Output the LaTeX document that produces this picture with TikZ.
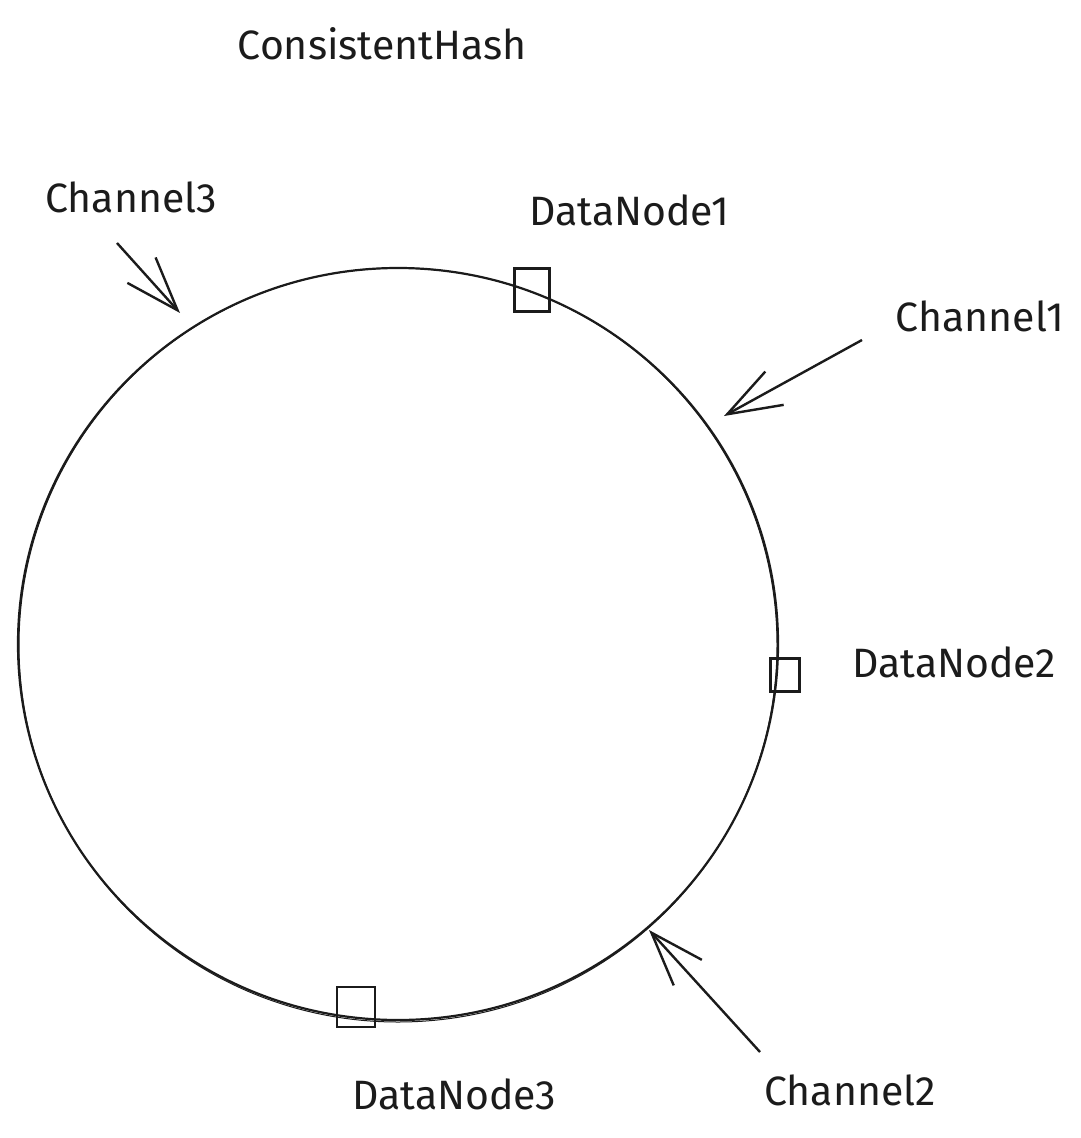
\documentclass[tikz,border=0pt]{standalone}
\usepackage{fontspec}
\setmainfont{Fira Sans}
\usepackage{tikz}
\usetikzlibrary{arrows.meta,positioning}
\definecolor{cInk}{HTML}{1B1B1B}
\tikzset{
  ring/.style={draw=cInk,line width=1.1pt},
  slot/.style={draw=cInk,line width=1.3pt,inner sep=0pt,minimum width=#1},
  lbl/.style={font=\fontsize{20.5}{22}\selectfont,text=cInk,inner sep=0pt},
  harr/.style={-{Straight Barb[length=27pt,width=19pt,line width=1.2pt]},line width=1.2pt,color=cInk},
}
\begin{document}
\begin{tikzpicture}[x=0.5pt,y=-0.5pt]
    \useasboundingbox (0,0) rectangle (1080,1138);
    % the hash ring
    \draw[ring] (398,644) ellipse [x radius=380,y radius=376];
    \draw[ring,line width=0.5pt] (398,645) ellipse [x radius=379,y radius=377];
    % data nodes sitting on the ring
    \node[slot=17.5pt,minimum height=21.5pt] (dn1) at (532,290) {};
    \node[slot=14.5pt,minimum height=16.5pt] (dn2) at (785,675) {};
    \node[slot=19pt,minimum height=20pt] (dn3) at (356,1007) {};
    % texts
    \node[lbl] (title) at (382,44) {ConsistentHash};
    \foreach \n/\x/\y/\t in {ch3/131/197/Channel3, dl1/629/210/DataNode1, ch1/980/316/Channel1, dl2/954/662/DataNode2, dl3/454/1094/DataNode3, ch2/850/1090/Channel2}{
      \node[lbl] (\n) at (\x,\y) {\t};}
    % channels pointing at the ring
    \foreach \n/\sx/\sy/\tx/\ty in {c3/117/243/180/313, c1/862/340/724/416, c2/760/1052/649/930}{
      \coordinate (\n s) at (\sx,\sy);
      \coordinate (\n t) at (\tx,\ty);
      \draw[harr] (\n s) -- (\n t);}
\end{tikzpicture}
\end{document}
